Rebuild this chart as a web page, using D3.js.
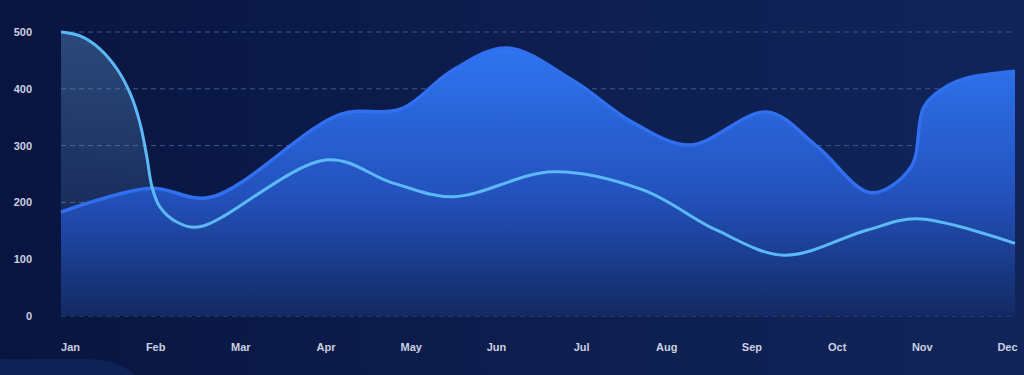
<!DOCTYPE html>
<html>
<head>
<meta charset="utf-8">
<script src="https://cdn.jsdelivr.net/npm/d3@7"></script>
<style>
  html, body { margin: 0; padding: 0; background: #0b1742; }
  #chart { width: 1024px; height: 375px; }
</style>
</head>
<body>
<div id="chart"></div>
<script>
// month labels
const months = ["Jan", "Feb", "Mar", "Apr", "May", "Jun", "Jul", "Aug", "Sep", "Oct", "Nov", "Dec"];
const yTicks = [0, 100, 200, 300, 400, 500];

// dark blue series (x in months from Jan)
const darkMonth = [0, 1.03, 1.72, 3.22, 3.91, 4.52, 5.14, 5.9, 6.6, 7.25, 8.14, 8.72, 9.34, 9.8, 9.95, 10.2, 10.45, 11];
const darkValue = [183, 225, 209, 355, 364, 433, 472, 415, 340, 301, 359, 298, 217, 262, 368, 403, 419, 431];

// light blue series
const lightMonth = [0, 0.22, 0.45, 0.65, 0.8, 0.91, 0.99, 1.05, 1.14, 1.34, 1.6, 3.07, 3.83, 4.52, 5.67, 6.71, 7.56, 8.34, 9.29, 9.87, 11];
const lightValue = [500, 493, 470, 434, 391, 340, 280, 227, 192, 165, 157, 275, 234, 210, 254, 222, 151, 107, 151, 171, 128];

const width = 1024, height = 375;
const margin = { top: 32, right: 9, bottom: 59, left: 61 };

const svg = d3.select("#chart").append("svg")
  .attr("width", width)
  .attr("height", height);

const defs = svg.append("defs");

// background
const bg = defs.append("linearGradient").attr("id", "bg")
  .attr("x1", 0).attr("y1", 0).attr("x2", 1).attr("y2", 0);
bg.append("stop").attr("offset", "0%").attr("stop-color", "#091540");
bg.append("stop").attr("offset", "100%").attr("stop-color", "#11255b");

const darkFill = defs.append("linearGradient").attr("id", "darkFill")
  .attr("gradientUnits", "userSpaceOnUse")
  .attr("x1", 0).attr("y1", 45).attr("x2", 0).attr("y2", 316);
darkFill.append("stop").attr("offset", "0%").attr("stop-color", "#2f75f2");
darkFill.append("stop").attr("offset", "55%").attr("stop-color", "#2352bd");
darkFill.append("stop").attr("offset", "100%").attr("stop-color", "#132963");

const lightFill = defs.append("linearGradient").attr("id", "lightFill")
  .attr("gradientUnits", "userSpaceOnUse")
  .attr("x1", 0).attr("y1", 32).attr("x2", 0).attr("y2", 316);
lightFill.append("stop").attr("offset", "0%").attr("stop-color", "#5a8fc8").attr("stop-opacity", 0.42);
lightFill.append("stop").attr("offset", "100%").attr("stop-color", "#5a8fc8").attr("stop-opacity", 0.05);

svg.append("rect").attr("width", width).attr("height", height).attr("fill", "url(#bg)");
// lighter patch in the bottom left corner
svg.append("path")
  .attr("d", "M0,359 L85,359 C110,359 125,366 135,375 L0,375 Z")
  .attr("fill", "#0e2257");

// scales
const x = d3.scaleLinear().domain([0, 11]).range([margin.left, width - margin.right]);
const y = d3.scaleLinear().domain([0, 500]).range([height - margin.bottom, margin.top]);
const xLabel = d3.scalePoint().domain(months).range([70, 1007]);

// grid
svg.append("g").selectAll("line")
  .data(yTicks)
  .enter().append("line")
  .attr("x1", margin.left).attr("x2", width - margin.right)
  .attr("y1", d => y(d)).attr("y2", d => y(d))
  .attr("stroke", "#3d5a88")
  .attr("stroke-width", 1)
  .attr("stroke-dasharray", "5,4");

const dark = darkMonth.map((m, i) => [m, darkValue[i]]);
const light = lightMonth.map((m, i) => [m, lightValue[i]]);

const curve = d3.curveCatmullRom.alpha(0.5);
const area = d3.area()
  .x(d => x(d[0])).y0(y(0)).y1(d => y(d[1]))
  .curve(curve);
const line = d3.line()
  .x(d => x(d[0])).y(d => y(d[1]))
  .curve(curve);

svg.append("path").datum(light).attr("d", area).attr("fill", "url(#lightFill)");
svg.append("path").datum(dark).attr("d", area).attr("fill", "url(#darkFill)");

svg.append("path").datum(dark).attr("d", line)
  .attr("fill", "none").attr("stroke", "#2f6ff0").attr("stroke-width", 3.5);
svg.append("path").datum(light).attr("d", line)
  .attr("fill", "none").attr("stroke", "#5bb9f7").attr("stroke-width", 3);

// y axis labels
const yAxis = svg.append("g")
  .attr("transform", "translate(32,0)")
  .call(d3.axisLeft(y).tickValues(yTicks).tickSize(0).tickPadding(0));
yAxis.select(".domain").remove();
yAxis.selectAll("text")
  .attr("fill", "#c9d1e2")
  .style("font-family", "'Liberation Sans', Arial, sans-serif")
  .style("font-size", "11px")
  .style("font-weight", "bold");

// x axis labels
const xAxis = svg.append("g")
  .attr("transform", "translate(0,343)")
  .call(d3.axisBottom(xLabel).tickSize(0).tickPadding(0));
xAxis.select(".domain").remove();
xAxis.selectAll("text")
  .attr("fill", "#c9d1e2")
  .style("font-family", "'Liberation Sans', Arial, sans-serif")
  .style("font-size", "11px")
  .style("font-weight", "bold");
</script>
</body>
</html>
